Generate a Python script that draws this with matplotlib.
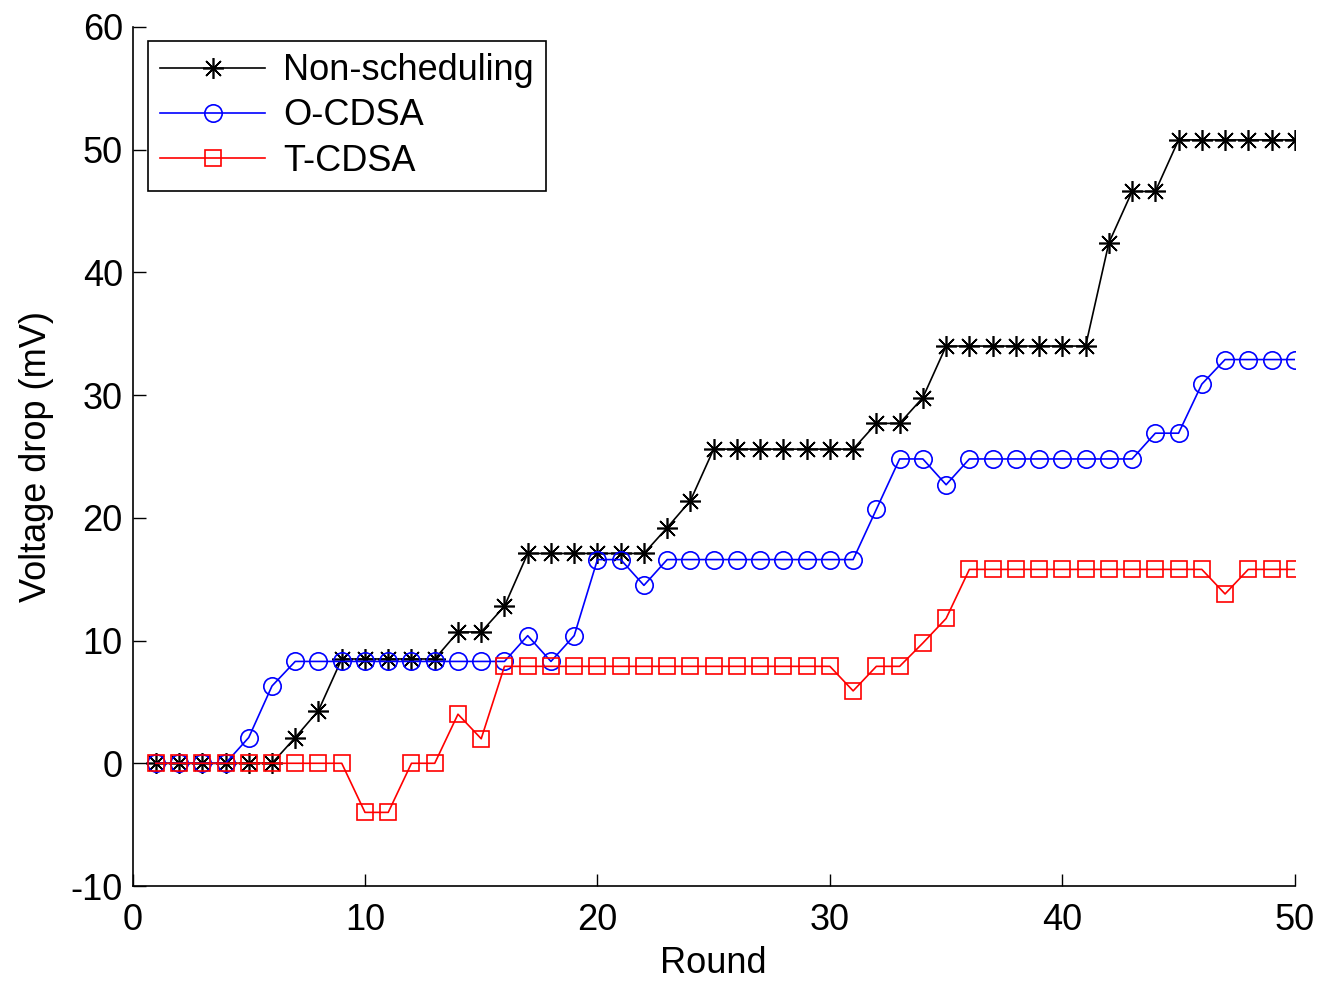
import matplotlib
matplotlib.use("Agg")
import matplotlib.pyplot as plt

# rounds 1..50
rounds = list(range(1, 51))

non_sched = [0, 0, 0, 0, 0, 0, 2.1, 4.3, 8.5, 8.5,
             8.5, 8.5, 8.5, 10.7, 10.7, 12.8, 17.1, 17.1, 17.1, 17.1,
             17.1, 17.1, 19.2, 21.4, 25.6, 25.6, 25.6, 25.6, 25.6, 25.6,
             25.6, 27.7, 27.7, 29.8, 34.0, 34.0, 34.0, 34.0, 34.0, 34.0,
             34.0, 42.4, 46.6, 46.6, 50.8, 50.8, 50.8, 50.8, 50.8, 50.8]

o_cdsa = [0, 0, 0, 0, 2.1, 6.3, 8.3, 8.3, 8.3, 8.3,
          8.3, 8.3, 8.3, 8.3, 8.3, 8.3, 10.4, 8.3, 10.4, 16.6,
          16.6, 14.5, 16.6, 16.6, 16.6, 16.6, 16.6, 16.6, 16.6, 16.6,
          16.6, 20.7, 24.8, 24.8, 22.7, 24.8, 24.8, 24.8, 24.8, 24.8,
          24.8, 24.8, 24.8, 26.9, 26.9, 30.9, 32.9, 32.9, 32.9, 32.9]

t_cdsa = [0, 0, 0, 0, 0, 0, 0, 0, 0, -4.0,
          -4.0, 0, 0, 4.0, 2.0, 7.9, 7.9, 7.9, 7.9, 7.9,
          7.9, 7.9, 7.9, 7.9, 7.9, 7.9, 7.9, 7.9, 7.9, 7.9,
          5.9, 7.9, 7.9, 9.8, 11.8, 15.8, 15.8, 15.8, 15.8, 15.8,
          15.8, 15.8, 15.8, 15.8, 15.8, 15.8, 13.8, 15.8, 15.8, 15.8]

plt.rcParams['font.family'] = ['Liberation Sans', 'DejaVu Sans']
plt.rcParams['axes.unicode_minus'] = False

fig = plt.figure(figsize=(13.28, 10), dpi=100)
ax = fig.add_axes([0.0998, 0.114, 0.8752, 0.859])

ax.plot(rounds, non_sched, color="black", lw=1.2, marker=(8, 2, 0),
        markersize=15, markeredgewidth=1.2, label="Non-scheduling")
ax.plot(rounds, o_cdsa, color="blue", lw=1.2, marker="o", markersize=12.5,
        markerfacecolor="none", markeredgewidth=1.2, label="O-CDSA")
ax.plot(rounds, t_cdsa, color="red", lw=1.2, marker="s", markersize=11,
        markerfacecolor="none", markeredgewidth=1.2, label="T-CDSA")

ax.set_xlim(0, 50)
ax.set_ylim(-10, 60)
ax.set_xticks([0, 10, 20, 30, 40, 50])
ax.set_yticks([-10, 0, 10, 20, 30, 40, 50, 60])
ax.tick_params(direction="in", length=9, width=1, labelsize=26, pad=7)
ax.tick_params(axis="x", pad=12)
ax.spines["top"].set_visible(False)
ax.spines["right"].set_visible(False)
ax.spines["left"].set_linewidth(1.2)
ax.spines["bottom"].set_linewidth(1.2)

ax.set_xlabel("Round", fontsize=26, labelpad=6)
ax.set_ylabel("Voltage drop (mV)", fontsize=26, labelpad=12)

leg = ax.legend(loc="upper left", bbox_to_anchor=(0.013, 0.984), fontsize=26,
                fancybox=False, edgecolor="black", framealpha=1,
                handlelength=2.9, borderpad=0.35, labelspacing=0.28,
                handletextpad=0.5, borderaxespad=0)
leg.get_frame().set_linewidth(1.2)

fig.savefig("out.png", dpi=100)
